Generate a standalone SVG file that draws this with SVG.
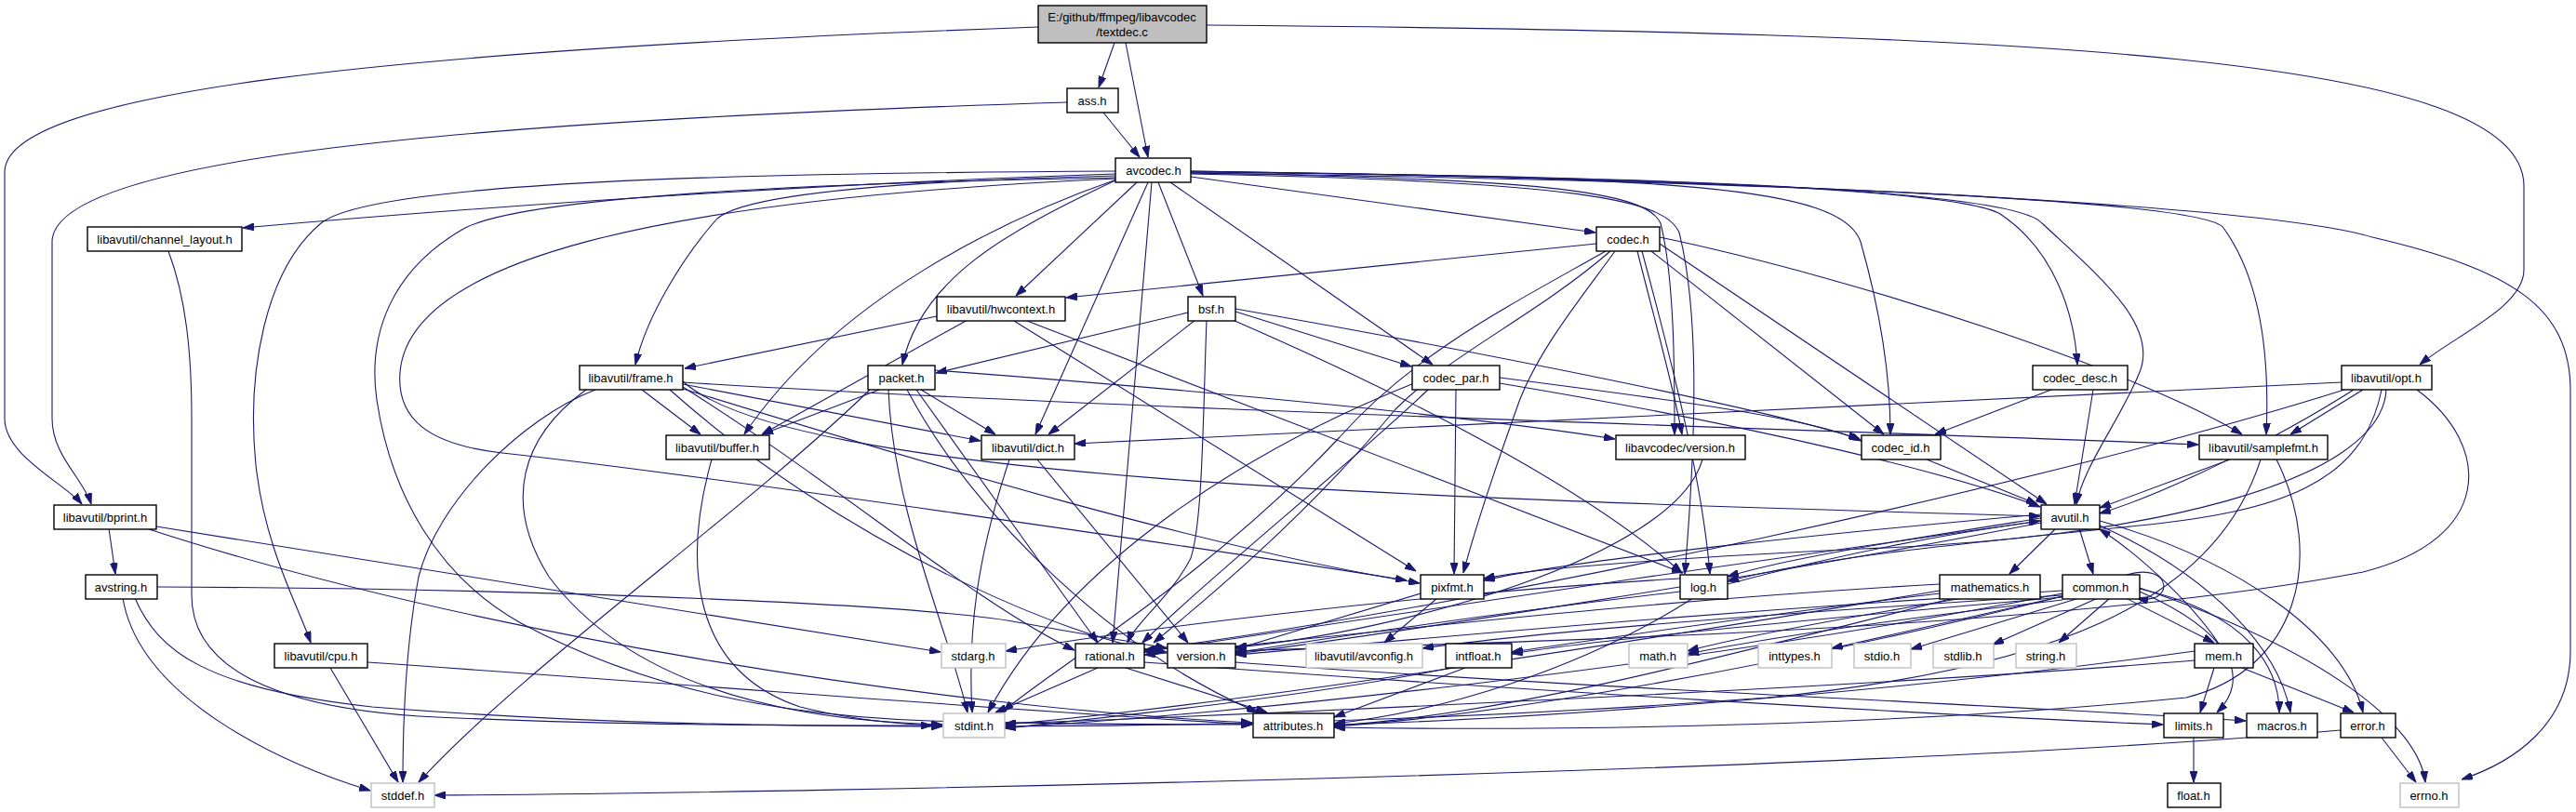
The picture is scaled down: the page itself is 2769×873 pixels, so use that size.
<svg xmlns="http://www.w3.org/2000/svg" width="2769" height="873" viewBox="0 0 2769 873">
<style>
.n rect{fill:#fff;stroke:#000;stroke-width:1.4}
.g rect{fill:#fff;stroke:#bfbfbf;stroke-width:1.4}
.r rect{fill:#bfbfbf;stroke:#000;stroke-width:1.4}
text{font-family:"Liberation Sans",Arial,sans-serif;font-size:13px;text-anchor:middle;fill:#000}
#edges path{fill:none;stroke:#191970;stroke-width:1.1;marker-end:url(#ah)}
</style>
<defs>
<marker id="ah" markerUnits="userSpaceOnUse" viewBox="0 0 12 8" refX="12" refY="4" markerWidth="12" markerHeight="8" orient="auto">
<path d="M0,0 L12,4 L0,8 Z" fill="#191970" stroke="#191970"/>
</marker>
</defs>
<rect x="0" y="0" width="2769" height="873" fill="#fff"/>
<g id="edges">
<path d="M1198,46 L1181,94"/>
<path d="M1210,46 L1234,169"/>
<path d="M1116,29 C400,55 5,100 5,185 L5,450 C5,490 70,520 88,542"/>
<path d="M1297,27 C2200,35 2713,60 2713,200 L2713,290 C2713,330 2640,360 2601,392"/>
<path d="M1186,121 L1225,169"/>
<path d="M1147,110 C500,130 56,170 56,260 L56,450 C56,490 90,515 98,542"/>
<path d="M1199,187 C950,195 600,215 261,245"/>
<path d="M1199,184 C800,186 400,195 345,240 C285,290 265,400 275,500 C285,590 320,650 334,691"/>
<path d="M1199,189 C950,195 800,210 771,235 C735,275 695,340 683,392"/>
<path d="M1200,193 C1080,235 900,320 800,467"/>
<path d="M1222,196 L1092,318"/>
<path d="M1201,193 C1080,250 990,300 970,392"/>
<path d="M1234,196 L1113,467"/>
<path d="M1238,196 L1196,691"/>
<path d="M1245,196 L1293,318"/>
<path d="M1258,196 L1540,392"/>
<path d="M1280,190 L1715,250"/>
<path d="M1199,191 C800,198 560,215 500,245 C420,290 395,360 405,430 C420,530 470,620 560,670 C700,745 850,770 1000,775 C1150,779 1250,779 1346,779"/>
<path d="M1199,192 C700,215 440,280 430,400 C426,450 460,478 540,487 C750,510 1300,590 1512,624"/>
<path d="M1280,184 C1700,190 2100,200 2150,230 C2210,270 2230,340 2233,392"/>
<path d="M1280,186 C1650,192 1770,205 1785,240 C1800,300 1800,400 1800,467"/>
<path d="M1280,187 C1700,195 1790,215 1805,250 C1825,330 1825,450 1811,617"/>
<path d="M1280,185 C1800,190 1980,200 2000,260 C2020,330 2032,400 2032,467"/>
<path d="M1280,185 C1900,190 2170,210 2195,240 C2260,300 2320,350 2300,400 C2280,450 2240,500 2232,542"/>
<path d="M1280,186 C1900,195 2370,215 2390,245 C2430,300 2440,380 2436,467"/>
<path d="M1280,184 C2000,195 2450,225 2550,255 C2700,290 2763,330 2763,420 L2763,700 C2763,780 2700,820 2646,838"/>
<path d="M181,270 C200,320 206,380 206,450 L206,640 C206,720 300,760 450,770 C650,780 850,780 1002,780"/>
<path d="M1716,262 L1146,320"/>
<path d="M1726,270 C1620,330 1520,380 1440,470 C1300,620 1130,720 1078,765"/>
<path d="M1736,270 C1700,320 1650,380 1630,440 C1605,510 1585,570 1573,616"/>
<path d="M1731,270 C1650,340 1560,380 1500,440 C1400,560 1290,650 1240,691"/>
<path d="M1760,270 C1780,350 1800,420 1808,467"/>
<path d="M1765,270 C1800,400 1830,520 1838,617"/>
<path d="M1775,270 L2025,467"/>
<path d="M1784,262 L2200,542"/>
<path d="M1784,255 C2000,300 2300,400 2410,467"/>
<path d="M1007,340 L736,396"/>
<path d="M1040,344 L819,467"/>
<path d="M1104,345 L1809,616"/>
<path d="M1090,345 L1522,614"/>
<path d="M1277,336 L1006,401"/>
<path d="M1285,344 L1127,467"/>
<path d="M1297,344 C1293,450 1293,560 1280,600 C1260,640 1220,670 1212,691"/>
<path d="M1328,335 L1517,394"/>
<path d="M1325,344 C1500,420 1700,520 1808,616"/>
<path d="M1328,332 C1600,380 1900,440 1999,472"/>
<path d="M690,419 L753,467"/>
<path d="M734,413 L1054,474"/>
<path d="M640,419 C560,450 470,540 450,620 C435,700 433,780 433,841"/>
<path d="M630,419 C560,470 540,540 590,620 C680,740 850,775 1013,779"/>
<path d="M734,416 C900,520 1050,650 1155,699"/>
<path d="M720,419 C900,580 1150,690 1254,701"/>
<path d="M734,410 C850,515 1500,535 2193,555"/>
<path d="M734,411 C1200,440 1900,460 2363,478"/>
<path d="M734,418 C1000,500 1300,590 1526,627"/>
<path d="M945,419 L819,467"/>
<path d="M990,419 L1070,467"/>
<path d="M935,419 C800,550 560,720 450,841"/>
<path d="M955,419 C960,550 1020,680 1040,766"/>
<path d="M975,419 C1050,560 1200,700 1352,766"/>
<path d="M985,419 L1180,691"/>
<path d="M1005,398 C1300,420 1600,450 1736,472"/>
<path d="M1520,412 C1350,480 1150,600 1062,766"/>
<path d="M1612,412 C1900,460 2100,510 2193,545"/>
<path d="M1535,419 C1450,500 1300,620 1228,691"/>
<path d="M1565,419 L1563,617"/>
<path d="M1612,406 C1800,430 1950,450 2001,474"/>
<path d="M2250,419 L2230,542"/>
<path d="M2205,419 L2080,467"/>
<path d="M2517,411 L1155,477"/>
<path d="M2530,419 C2450,470 2330,530 2257,552"/>
<path d="M2540,419 L2462,467"/>
<path d="M2520,419 C2200,520 1600,650 1230,699"/>
<path d="M2560,419 C2540,520 2450,550 2300,565 C2100,585 1950,600 1857,625"/>
<path d="M2565,419 C2560,520 2300,580 2000,590 C1800,600 1650,610 1595,622"/>
<path d="M2598,419 C2680,480 2680,580 2540,615 C2200,680 1600,690 1328,700"/>
<path d="M1830,494 C1800,600 1500,680 1328,696"/>
<path d="M2071,494 L2190,542"/>
<path d="M2397,494 L2257,546"/>
<path d="M2430,494 C2380,650 2200,720 1900,750 C1500,780 1200,780 1080,781"/>
<path d="M2447,494 C2500,600 2470,720 2350,750 C2000,785 1600,785 1434,782"/>
<path d="M117,568 L124,617"/>
<path d="M168,566 L1011,701"/>
<path d="M157,568 C500,680 1000,760 1346,777"/>
<path d="M132,643 C150,750 300,820 398,850"/>
<path d="M145,643 C170,700 220,740 400,760 C650,780 850,780 1013,781"/>
<path d="M169,631 C600,633 1000,650 1100,670 C1180,685 1220,690 1254,697"/>
<path d="M355,718 L428,841"/>
<path d="M395,712 C800,740 1100,765 1346,779"/>
<path d="M1545,643 L1488,691"/>
<path d="M1527,638 L1328,698"/>
<path d="M1806,622 C1500,640 1200,680 1081,700"/>
<path d="M1857,628 C2000,590 2120,570 2193,560"/>
<path d="M1820,643 C1700,720 1550,765 1434,778"/>
<path d="M1806,636 C1600,660 1400,690 1328,702"/>
<path d="M2235,568 L2250,617"/>
<path d="M2210,568 L2160,617"/>
<path d="M2257,560 C2400,600 2520,680 2540,766"/>
<path d="M2257,565 C2380,620 2450,700 2462,766"/>
<path d="M2194,560 C1900,600 1500,660 1230,701"/>
<path d="M2194,557 C2050,580 1920,600 1857,620"/>
<path d="M2194,553 C2000,570 1700,600 1595,624"/>
<path d="M2194,562 C1900,620 1500,680 1328,703"/>
<path d="M2085,635 C1700,700 1300,760 1080,779"/>
<path d="M2110,643 C1950,670 1850,690 1814,700"/>
<path d="M2100,643 C1800,720 1600,770 1434,780"/>
<path d="M2085,628 C1700,650 1400,690 1230,704"/>
<path d="M2085,638 C1900,660 1700,690 1625,701"/>
<path d="M2300,632 C2500,700 2600,780 2607,841"/>
<path d="M2222,640 L1969,697"/>
<path d="M2235,643 L2054,698"/>
<path d="M2255,643 L2142,693"/>
<path d="M2268,643 L2213,691"/>
<path d="M2285,643 L2380,691"/>
<path d="M2300,636 C2400,680 2420,730 2383,766"/>
<path d="M2300,633 C2420,660 2450,720 2450,766"/>
<path d="M2217,638 C1800,720 1300,770 1080,782"/>
<path d="M2217,641 C1900,720 1600,770 1434,781"/>
<path d="M2217,635 C1800,660 1500,690 1328,704"/>
<path d="M2217,640 C1900,660 1650,680 1529,697"/>
<path d="M2217,642 C1900,670 1700,690 1625,703"/>
<path d="M2217,645 C2000,670 1880,690 1814,703"/>
<path d="M2286,618 C2336,603 2338,652 2297,643"/>
<path d="M2359,700 C2000,750 1600,775 1434,779"/>
<path d="M2410,718 L2530,766"/>
<path d="M2385,692 C2350,640 2290,590 2257,569"/>
<path d="M2380,718 L2365,766"/>
<path d="M2359,710 C2000,740 1300,770 1080,778"/>
<path d="M1180,718 L1070,766"/>
<path d="M1230,712 C1600,740 2100,770 2325,779"/>
<path d="M1210,718 L1362,766"/>
<path d="M1328,712 C1700,740 2200,760 2414,775"/>
<path d="M1560,718 C1400,750 1200,770 1080,783"/>
<path d="M1575,718 L1434,771"/>
<path d="M2358,793 L2358,841"/>
<path d="M2560,793 L2597,841"/>
<path d="M2516,785 C2000,830 900,852 467,855"/>
<path d="M1085,494 C1050,600 1040,680 1045,766"/>
<path d="M1115,494 L1277,691"/>
<path d="M765,494 C735,600 740,720 860,760 C920,775 970,779 1013,780"/>
</g>
<g id="n_root" class="r"><rect x="1116" y="6" width="181" height="40"/><text x="1206" y="23">E:/github/ffmpeg/libavcodec</text><text x="1206" y="39">/textdec.c</text></g>
<g id="n_ass" class="n"><rect x="1147" y="95" width="55" height="26"/><text x="1174" y="113">ass.h</text></g>
<g id="n_avcodec" class="n"><rect x="1199" y="170" width="81" height="26"/><text x="1240" y="188">avcodec.h</text></g>
<g id="n_channel_layout" class="n"><rect x="94" y="244" width="166" height="26"/><text x="177" y="262">libavutil/channel_layout.h</text></g>
<g id="n_codec" class="n"><rect x="1716" y="244" width="68" height="26"/><text x="1750" y="262">codec.h</text></g>
<g id="n_hwcontext" class="n"><rect x="1007" y="319" width="138" height="26"/><text x="1076" y="337">libavutil/hwcontext.h</text></g>
<g id="n_bsf" class="n"><rect x="1277" y="319" width="51" height="26"/><text x="1302" y="337">bsf.h</text></g>
<g id="n_frame" class="n"><rect x="623" y="393" width="111" height="26"/><text x="678" y="411">libavutil/frame.h</text></g>
<g id="n_packet" class="n"><rect x="933" y="393" width="72" height="26"/><text x="969" y="411">packet.h</text></g>
<g id="n_codec_par" class="n"><rect x="1518" y="393" width="94" height="26"/><text x="1565" y="411">codec_par.h</text></g>
<g id="n_codec_desc" class="n"><rect x="2185" y="393" width="102" height="26"/><text x="2236" y="411">codec_desc.h</text></g>
<g id="n_opt" class="n"><rect x="2517" y="393" width="97" height="26"/><text x="2565" y="411">libavutil/opt.h</text></g>
<g id="n_buffer" class="n"><rect x="716" y="468" width="111" height="26"/><text x="771" y="486">libavutil/buffer.h</text></g>
<g id="n_dict" class="n"><rect x="1055" y="468" width="100" height="26"/><text x="1105" y="486">libavutil/dict.h</text></g>
<g id="n_lavc_version" class="n"><rect x="1737" y="468" width="139" height="26"/><text x="1806" y="486">libavcodec/version.h</text></g>
<g id="n_codec_id" class="n"><rect x="2001" y="468" width="85" height="26"/><text x="2043" y="486">codec_id.h</text></g>
<g id="n_samplefmt" class="n"><rect x="2364" y="468" width="138" height="26"/><text x="2433" y="486">libavutil/samplefmt.h</text></g>
<g id="n_bprint" class="n"><rect x="58" y="543" width="110" height="26"/><text x="113" y="561">libavutil/bprint.h</text></g>
<g id="n_avutil" class="n"><rect x="2194" y="543" width="63" height="26"/><text x="2225" y="561">avutil.h</text></g>
<g id="n_avstring" class="n"><rect x="92" y="618" width="77" height="26"/><text x="130" y="636">avstring.h</text></g>
<g id="n_pixfmt" class="n"><rect x="1527" y="618" width="68" height="26"/><text x="1561" y="636">pixfmt.h</text></g>
<g id="n_log" class="n"><rect x="1806" y="618" width="51" height="26"/><text x="1831" y="636">log.h</text></g>
<g id="n_mathematics" class="n"><rect x="2085" y="618" width="108" height="26"/><text x="2139" y="636">mathematics.h</text></g>
<g id="n_common" class="n"><rect x="2217" y="618" width="83" height="26"/><text x="2258" y="636">common.h</text></g>
<g id="n_cpu" class="n"><rect x="295" y="692" width="100" height="26"/><text x="345" y="710">libavutil/cpu.h</text></g>
<g id="n_stdarg" class="g"><rect x="1012" y="692" width="69" height="26"/><text x="1046" y="710">stdarg.h</text></g>
<g id="n_rational" class="n"><rect x="1156" y="692" width="74" height="26"/><text x="1193" y="710">rational.h</text></g>
<g id="n_version" class="n"><rect x="1255" y="692" width="73" height="26"/><text x="1291" y="710">version.h</text></g>
<g id="n_avconfig" class="g"><rect x="1404" y="692" width="125" height="26"/><text x="1466" y="710">libavutil/avconfig.h</text></g>
<g id="n_intfloat" class="n"><rect x="1554" y="692" width="71" height="26"/><text x="1589" y="710">intfloat.h</text></g>
<g id="n_math" class="g"><rect x="1751" y="692" width="63" height="26"/><text x="1782" y="710">math.h</text></g>
<g id="n_inttypes" class="g"><rect x="1890" y="692" width="79" height="26"/><text x="1929" y="710">inttypes.h</text></g>
<g id="n_stdio" class="g"><rect x="1993" y="692" width="61" height="26"/><text x="2023" y="710">stdio.h</text></g>
<g id="n_stdlib" class="g"><rect x="2078" y="692" width="65" height="26"/><text x="2110" y="710">stdlib.h</text></g>
<g id="n_string" class="g"><rect x="2167" y="692" width="65" height="26"/><text x="2199" y="710">string.h</text></g>
<g id="n_mem" class="n"><rect x="2359" y="692" width="63" height="26"/><text x="2390" y="710">mem.h</text></g>
<g id="n_stdint" class="g"><rect x="1014" y="767" width="66" height="26"/><text x="1047" y="785">stdint.h</text></g>
<g id="n_attributes" class="n"><rect x="1347" y="767" width="87" height="26"/><text x="1390" y="785">attributes.h</text></g>
<g id="n_limits" class="n"><rect x="2326" y="767" width="64" height="26"/><text x="2358" y="785">limits.h</text></g>
<g id="n_macros" class="n"><rect x="2415" y="767" width="76" height="26"/><text x="2453" y="785">macros.h</text></g>
<g id="n_error" class="n"><rect x="2516" y="767" width="59" height="26"/><text x="2545" y="785">error.h</text></g>
<g id="n_stddef" class="g"><rect x="399" y="842" width="68" height="26"/><text x="433" y="860">stddef.h</text></g>
<g id="n_float" class="n"><rect x="2330" y="842" width="57" height="26"/><text x="2358" y="860">float.h</text></g>
<g id="n_errno" class="g"><rect x="2580" y="842" width="63" height="26"/><text x="2611" y="860">errno.h</text></g>
</svg>
